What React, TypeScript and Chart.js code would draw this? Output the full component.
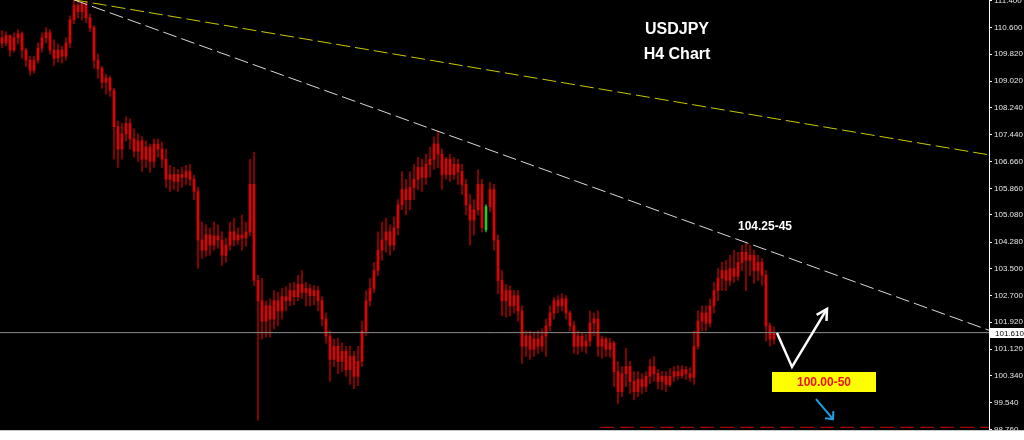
import React, { useEffect, useRef } from 'react';
import { Chart, registerables } from 'chart.js';

Chart.register(...registerables);

// ---- H4 candles (USDJPY) ----
const OPEN = [
  110.30,110.15,110.36,109.94,110.30,110.42,109.94,109.64,109.34,109.64,
  110.00,110.30,110.45,109.94,109.70,109.94,109.76,110.15,110.83,111.25,
  111.07,111.31,110.89,110.60,109.64,109.40,108.99,109.11,108.75,107.68,
  107.02,107.47,107.77,107.32,106.96,107.26,106.72,107.08,106.66,107.17,
  107.02,106.72,106.13,106.27,106.07,106.27,106.19,106.36,106.13,105.77,
  104.34,104.04,104.49,104.19,104.46,104.34,103.89,104.19,104.58,104.34,
  104.49,104.40,104.58,105.98,103.15,102.55,101.95,102.40,102.01,102.55,
  102.25,102.67,102.55,102.85,102.67,103.03,102.79,102.91,102.70,102.85,
  102.55,102.01,101.51,100.82,101.21,100.76,101.06,100.52,100.91,100.32,
  100.76,101.66,102.55,102.91,103.44,104.04,104.34,104.58,104.19,104.70,
  105.38,105.83,105.53,105.89,106.13,106.48,106.19,106.57,106.72,107.17,
  106.87,106.27,106.72,106.27,106.57,106.36,105.98,105.38,104.93,105.23,
  105.98,104.64,105.32,105.83,104.34,103.15,102.55,102.85,102.40,102.70,
  102.25,101.21,101.51,101.12,101.42,101.21,101.51,101.81,102.19,102.55,
  102.40,102.61,102.19,101.81,101.21,101.51,101.21,101.36,101.89,102.01,
  101.21,101.42,101.12,101.30,100.46,99.87,100.40,100.61,100.17,99.87,
  100.23,100.02,100.32,100.61,100.40,100.17,100.32,100.08,100.32,100.46,
  100.34,100.52,100.40,100.29,101.21,101.95,102.19,101.89,102.40,102.85,
  103.21,103.44,103.15,103.50,103.27,103.68,103.98,103.74,103.89,103.44,
  103.68,103.30,101.81,101.42,
];
const HIGH = [
  110.51,110.48,110.39,110.45,110.54,110.48,110.00,109.76,109.76,110.15,
  110.45,110.60,110.54,110.24,110.12,110.06,110.30,110.95,111.42,111.38,
  111.35,111.38,111.01,110.66,109.82,109.46,109.23,109.17,108.81,107.85,
  107.77,107.97,107.91,107.62,107.47,107.38,107.26,107.17,107.32,107.32,
  107.23,107.02,106.54,106.48,106.42,106.48,106.54,106.57,106.25,105.89,
  104.87,104.79,104.70,104.87,104.79,104.58,104.40,104.87,104.99,104.70,
  105.08,104.87,106.72,106.93,103.30,103.21,102.55,102.61,102.85,102.79,
  102.91,102.97,103.06,103.09,103.30,103.44,103.09,103.03,103.00,102.97,
  102.67,102.19,101.66,101.42,101.45,101.30,101.21,101.21,101.06,101.21,
  101.95,102.85,103.21,103.68,104.58,104.87,104.99,104.79,105.02,105.53,
  106.36,106.13,106.36,106.57,106.78,106.72,106.87,107.08,107.38,107.55,
  107.02,106.78,106.87,106.78,106.72,106.57,106.13,105.68,105.53,106.42,
  106.13,105.38,106.04,105.98,104.49,103.44,103.03,103.00,102.85,102.85,
  102.40,101.66,101.66,101.60,101.66,101.72,102.01,102.40,102.64,102.70,
  102.76,102.70,102.25,101.95,101.66,101.60,101.57,102.25,102.19,102.25,
  101.51,101.48,101.45,101.36,100.76,100.61,101.15,100.76,100.46,100.46,
  100.40,100.46,100.82,100.91,100.52,100.46,100.46,100.55,100.61,100.64,
  100.64,100.61,100.58,101.66,102.25,102.40,102.40,102.61,103.09,103.50,
  103.68,103.74,103.89,104.04,103.98,104.18,104.24,104.19,104.04,103.89,
  103.80,103.44,101.89,101.78,
];
const LOW = [
  110.00,110.06,109.76,109.88,110.12,109.70,109.46,109.20,109.26,109.55,
  109.88,110.15,109.82,109.49,109.58,109.55,109.64,110.00,110.72,110.89,
  110.83,110.75,110.48,109.40,109.11,108.81,108.63,108.57,106.72,106.48,
  106.72,107.26,107.02,106.78,106.66,106.36,106.48,106.33,106.48,106.78,
  106.48,105.89,105.77,105.83,105.77,105.89,105.98,105.95,105.53,103.50,
  103.80,103.86,103.89,104.04,104.10,103.59,103.68,104.04,104.16,104.22,
  104.04,104.16,104.46,103.00,99.03,101.42,101.48,101.48,101.72,101.81,
  102.01,102.25,102.40,102.43,102.55,102.61,102.40,102.40,102.43,102.25,
  101.81,101.30,100.17,100.61,100.40,100.46,100.32,100.08,99.96,100.05,
  100.61,101.51,102.40,102.79,103.30,103.74,103.98,103.89,104.04,104.49,
  105.23,105.08,105.23,105.53,105.83,105.77,105.98,106.19,106.42,106.48,
  105.83,106.13,106.07,106.13,105.98,105.68,105.08,104.19,104.49,105.08,
  104.58,104.58,105.17,104.04,102.76,102.10,102.07,102.10,102.19,101.95,
  100.70,100.91,100.82,100.91,101.00,101.06,100.91,101.66,102.01,102.19,
  102.25,102.01,101.66,101.00,100.97,101.06,101.00,101.21,101.51,100.91,
  100.85,100.91,100.88,100.02,99.51,99.72,100.02,99.81,99.63,99.72,
  99.81,99.87,100.11,100.17,99.96,99.93,99.87,100.02,100.17,100.23,
  100.26,100.23,100.17,100.08,101.12,101.66,101.66,101.78,102.19,102.55,
  102.85,102.85,103.00,103.09,103.15,103.44,102.85,103.30,103.06,103.15,
  103.00,101.36,101.21,101.27,
];
const CLOSE = [
  110.15,110.36,109.94,110.30,110.42,109.94,109.64,109.34,109.64,110.00,
  110.30,110.45,109.94,109.70,109.94,109.76,110.15,110.83,111.25,111.07,
  111.31,110.89,110.60,109.64,109.40,108.99,109.11,108.75,107.68,107.02,
  107.47,107.77,107.32,106.96,107.26,106.72,107.08,106.66,107.17,107.02,
  106.72,106.13,106.27,106.07,106.27,106.19,106.36,106.13,105.77,104.34,
  104.04,104.49,104.19,104.46,104.34,103.89,104.19,104.58,104.34,104.49,
  104.40,104.58,105.98,103.15,102.55,101.95,102.40,102.01,102.55,102.25,
  102.67,102.55,102.85,102.67,103.03,102.79,102.91,102.70,102.85,102.55,
  102.01,101.51,100.82,101.21,100.76,101.06,100.52,100.91,100.32,100.76,
  101.66,102.55,102.91,103.44,104.04,104.34,104.58,104.19,104.70,105.38,
  105.83,105.53,105.89,106.13,106.48,106.19,106.57,106.72,107.17,106.87,
  106.27,106.72,106.27,106.57,106.36,105.98,105.38,104.93,105.23,105.98,
  104.70,105.32,105.83,104.34,103.15,102.55,102.85,102.40,102.70,102.25,
  101.21,101.51,101.12,101.42,101.21,101.51,101.81,102.19,102.55,102.40,
  102.61,102.19,101.81,101.21,101.51,101.21,101.36,101.89,102.01,101.21,
  101.42,101.12,101.30,100.46,99.87,100.40,100.61,100.17,99.87,100.23,
  100.02,100.32,100.61,100.40,100.17,100.32,100.08,100.32,100.46,100.34,
  100.52,100.40,100.29,101.21,101.95,102.19,101.89,102.40,102.85,103.21,
  103.44,103.15,103.50,103.27,103.68,103.98,103.74,103.89,103.44,103.68,
  103.30,101.81,101.42,101.60,
];
const GREEN_BARS = [121];

// ---- axis & levels ----
const Y_TICKS = [111.4, 110.6, 109.82, 109.02, 108.24, 107.44, 106.66, 105.86, 105.08,
  104.28, 103.5, 102.7, 101.92, 101.12, 100.34, 99.54, 98.76];
const Y_MIN = 98.74;
const Y_MAX = 111.415;
const X_MIN = -0.5;
const X_MAX = 246.75;
const CURRENT_PRICE = 101.61;
const MAIN_TREND = [{ x: 18, y: 111.42 }, { x: 246.75, y: 101.68 }];
const LONG_TREND = [{ x: 18, y: 111.42 }, { x: 246.75, y: 106.85 }];
const SUPPORT_LINE = [{ x: 149.5, y: 98.82 }, { x: 246.75, y: 98.82 }];

// ---- annotations (data coordinates: bar index, price) ----
const TITLE_LINES = ['USDJPY', 'H4 Chart'];
const TITLE_POS = [{ x: 168.75, y: 110.545 }, { x: 168.75, y: 109.82 }];
const RESIST_LABEL = '104.25-45';
const RESIST_POS = { x: 190.75, y: 104.72 };
const TARGET_LABEL = '100.00-50';
const TARGET_BOX = { x0: 192.5, x1: 218.5, y0: 100.45, y1: 99.86 };
const SCENARIO_PATH = [{ x: 193.75, y: 101.6 }, { x: 197.5, y: 100.6 }, { x: 206.25, y: 102.31 }];
const BEAR_PATH = [{ x: 203.5, y: 99.65 }, { x: 207.75, y: 99.06 }];

const idx = OPEN.map((_, i) => i);

function drawArrowHead(ctx: CanvasRenderingContext2D, fx: number, fy: number, tx: number, ty: number, len: number, ang: number) {
  const a = Math.atan2(ty - fy, tx - fx);
  ctx.beginPath();
  ctx.moveTo(tx - len * Math.cos(a - ang), ty - len * Math.sin(a - ang));
  ctx.lineTo(tx, ty);
  ctx.lineTo(tx - len * Math.cos(a + ang), ty - len * Math.sin(a + ang));
  ctx.stroke();
}

const bgPlugin = {
  id: 'bg',
  beforeDraw(chart: any) {
    const { ctx, width, height } = chart;
    ctx.save();
    ctx.fillStyle = '#000000';
    ctx.fillRect(0, 0, width, height);
    ctx.restore();
  },
};

const annotationPlugin = {
  id: 'notes',
  afterDraw(chart: any) {
    const { ctx, chartArea } = chart;
    const xs = chart.scales.x;
    const ys = chart.scales.y;
    const px = (v: number) => xs.getPixelForValue(v);
    const py = (v: number) => ys.getPixelForValue(v);
    ctx.save();

    // right axis line and bottom border
    ctx.strokeStyle = '#ffffff';
    ctx.lineWidth = 1;
    ctx.beginPath();
    ctx.moveTo(chartArea.right + 0.5, 0);
    ctx.lineTo(chartArea.right + 0.5, chartArea.bottom);
    ctx.stroke();
    ctx.strokeStyle = '#c8c8c8';
    ctx.beginPath();
    ctx.moveTo(0, chartArea.bottom + 0.5);
    ctx.lineTo(chart.width, chartArea.bottom + 0.5);
    ctx.stroke();

    // current price tag
    const cy = Math.round(py(CURRENT_PRICE));
    ctx.fillStyle = '#ffffff';
    ctx.fillRect(chartArea.right + 1, cy - 5, chart.width - chartArea.right - 1, 10);
    ctx.fillStyle = '#000000';
    ctx.font = '8px "Liberation Sans", Arial, sans-serif';
    ctx.textAlign = 'left';
    ctx.textBaseline = 'middle';
    ctx.fillText(CURRENT_PRICE.toFixed(3), chartArea.right + 6, cy + 0.5);

    // title
    ctx.fillStyle = '#ffffff';
    ctx.textAlign = 'center';
    ctx.font = 'bold 16px "Liberation Sans", Arial, sans-serif';
    TITLE_LINES.forEach((t, k) => ctx.fillText(t, px(TITLE_POS[k].x), py(TITLE_POS[k].y)));

    // resistance label
    ctx.font = 'bold 12px "Liberation Sans", Arial, sans-serif';
    ctx.fillText(RESIST_LABEL, px(RESIST_POS.x), py(RESIST_POS.y));

    // target box
    const bx0 = px(TARGET_BOX.x0), bx1 = px(TARGET_BOX.x1);
    const by0 = py(TARGET_BOX.y0), by1 = py(TARGET_BOX.y1);
    ctx.fillStyle = '#ffff00';
    ctx.fillRect(bx0, by0, bx1 - bx0, by1 - by0);
    ctx.fillStyle = '#ee1111';
    ctx.fillText(TARGET_LABEL, (bx0 + bx1) / 2, (by0 + by1) / 2 + 1);

    // white scenario arrow
    ctx.strokeStyle = '#ffffff';
    ctx.lineWidth = 2.5;
    ctx.beginPath();
    SCENARIO_PATH.forEach((p, k) => (k === 0 ? ctx.moveTo(px(p.x), py(p.y)) : ctx.lineTo(px(p.x), py(p.y))));
    ctx.stroke();
    const s1 = SCENARIO_PATH[1], s2 = SCENARIO_PATH[2];
    drawArrowHead(ctx, px(s1.x), py(s1.y), px(s2.x), py(s2.y), 12, 0.5);

    // blue bearish arrow
    ctx.strokeStyle = '#1e9fe6';
    ctx.lineWidth = 2;
    const b0 = BEAR_PATH[0], b1 = BEAR_PATH[1];
    ctx.beginPath();
    ctx.moveTo(px(b0.x), py(b0.y));
    ctx.lineTo(px(b1.x), py(b1.y));
    ctx.stroke();
    drawArrowHead(ctx, px(b0.x), py(b0.y), px(b1.x), py(b1.y), 8, 0.75);

    ctx.restore();
  },
};

export default function App() {
  const ref = useRef<HTMLCanvasElement>(null);

  useEffect(() => {
    if (!ref.current) return;
    const bodyColors = idx.map((i) => (GREEN_BARS.includes(i) ? '#22cc22' : '#e00000'));
    const wickColors = idx.map((i) => (GREEN_BARS.includes(i) ? '#22aa22' : '#a00000'));
    const chart = new Chart(ref.current, {
      type: 'bar',
      data: {
        datasets: [
          {
            type: 'line',
            label: 'current',
            data: [{ x: X_MIN, y: CURRENT_PRICE }, { x: X_MAX, y: CURRENT_PRICE }],
            borderColor: '#8c8c8c',
            borderWidth: 1,
            pointRadius: 0,
            order: 0,
          } as any,
          {
            type: 'line',
            label: 'main trend',
            data: MAIN_TREND,
            borderColor: '#d8d8d8',
            borderWidth: 1,
            borderDash: [14, 5],
            pointRadius: 0,
            order: 0,
          } as any,
          {
            type: 'line',
            label: 'long trend',
            data: LONG_TREND,
            borderColor: '#c8c800',
            borderWidth: 1,
            borderDash: [14, 5],
            pointRadius: 0,
            order: 0,
          } as any,
          {
            type: 'line',
            label: 'support',
            data: SUPPORT_LINE,
            borderColor: '#d00000',
            borderWidth: 1,
            borderDash: [14, 6],
            pointRadius: 0,
            order: 0,
          } as any,
          {
            type: 'bar',
            label: 'wick',
            data: idx.map((i) => ({ x: i, y: [LOW[i], HIGH[i]] })) as any,
            backgroundColor: wickColors,
            barThickness: 1,
            grouped: false,
            borderWidth: 0,
            order: 2,
          } as any,
          {
            type: 'bar',
            label: 'body',
            data: idx.map((i) => ({ x: i, y: [OPEN[i], CLOSE[i]] })) as any,
            backgroundColor: bodyColors,
            barThickness: 2,
            grouped: false,
            borderWidth: 0,
            order: 1,
          } as any,
        ],
      },
      options: {
        animation: false,
        responsive: false,
        devicePixelRatio: 1,
        layout: { padding: { left: 0, top: 0, right: 0, bottom: 1 } },
        plugins: { legend: { display: false }, tooltip: { enabled: false } },
        scales: {
          x: {
            type: 'linear',
            min: X_MIN,
            max: X_MAX,
            offset: false,
            display: false,
            grid: { offset: false },
          },
          y: {
            position: 'right',
            min: Y_MIN,
            max: Y_MAX,
            afterBuildTicks: (scale: any) => {
              scale.ticks = Y_TICKS.map((v) => ({ value: v }));
            },
            afterFit: (scale: any) => {
              scale.width = 35;
              scale.paddingTop = 0;
              scale.paddingBottom = 0;
            },
            grid: { drawOnChartArea: false, drawTicks: true, tickLength: 3, color: '#ffffff' },
            border: { display: false },
            ticks: {
              autoSkip: false,
              padding: 2,
              color: '#e6e6e6',
              font: { family: '"Liberation Sans", Arial, sans-serif', size: 8 },
              callback: (v: any) => Number(v).toFixed(3),
            },
          },
        },
      } as any,
      plugins: [bgPlugin, annotationPlugin],
    });
    return () => chart.destroy();
  }, []);

  return (
    <div style={{ position: 'fixed', left: 0, top: 0, width: 1024, height: 431, background: '#000' }}>
      <canvas ref={ref} width={1024} height={431} style={{ display: 'block', width: 1024, height: 431 }} />
    </div>
  );
}
